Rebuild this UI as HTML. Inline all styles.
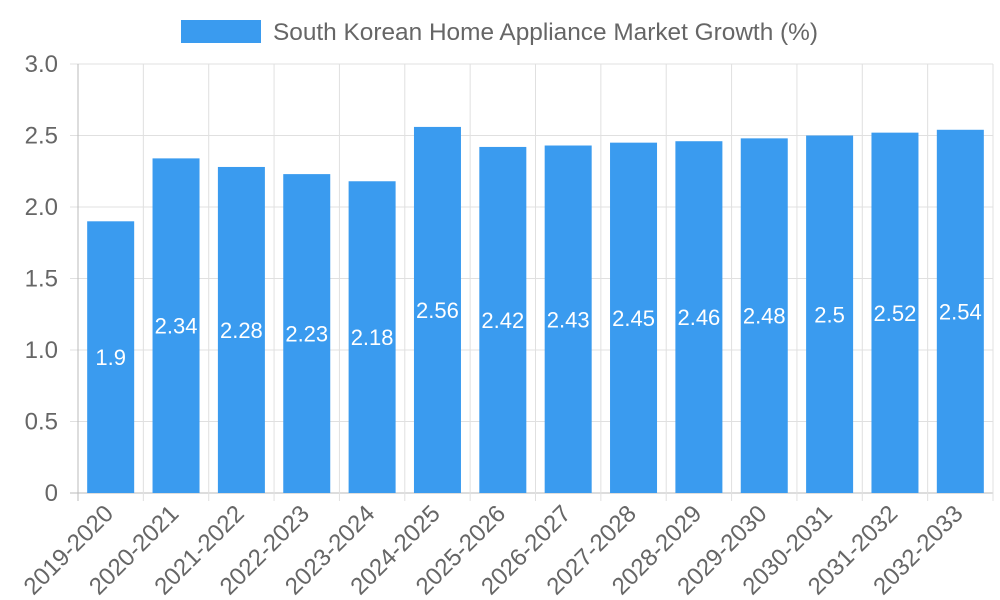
<!DOCTYPE html>
<html><head><meta charset="utf-8"><style>
body{margin:0;background:#fff;}
svg{display:block;font-family:"Liberation Sans",sans-serif;}
</style></head><body>
<svg id="chart" width="1000" height="600">
<g>
<rect x="181" y="20" width="80" height="23" fill="#3a9bef"></rect>
<text x="273" y="40" font-size="24.4" fill="#666">South Korean Home Appliance Market Growth (%)</text>
</g>
<g id="grid"></g><g id="bars"></g><g id="labels"></g>
</svg>
<script>
const categories=["2019-2020","2020-2021","2021-2022","2022-2023","2023-2024","2024-2025","2025-2026","2026-2027","2027-2028","2028-2029","2029-2030","2030-2031","2031-2032","2032-2033"];
const values=[1.9,2.34,2.28,2.23,2.18,2.56,2.42,2.43,2.45,2.46,2.48,2.5,2.52,2.54];
const yTicks=[0,0.5,1,1.5,2,2.5,3];
const yTickLabels=["0","0.5","1.0","1.5","2.0","2.5","3.0"];
const NS="http://www.w3.org/2000/svg";
const L=78,R=993,T=64,B=493,yMax=3;
const bw=(R-L)/categories.length;
const y=v=>B-(v/yMax)*(B-T);
const xc=i=>L+bw*(i+0.5);
function mk(p,tag,a){const e=document.createElementNS(NS,tag);for(const k in a)e.setAttribute(k,a[k]);p.appendChild(e);return e;}
const g=document.getElementById('grid'),bars=document.getElementById('bars'),lab=document.getElementById('labels');
yTicks.forEach((t,i)=>{
 const ln=mk(g,'line',{x1:L-8,x2:R,y1:y(t),y2:y(t),stroke:i==0?'#bbb':'#e0e0e0','stroke-width':1});
 
 
 const tx=mk(g,'text',{x:L-20,y:y(t)+8,'text-anchor':'end','font-size':24,fill:'#666'});
 tx.textContent=yTickLabels[i];
 
 
});
for(let i=0;i<=categories.length;i++){
 const x=L+bw*i;
 const ln=mk(g,'line',{x1:x,x2:x,y1:T,y2:B+8,stroke:i==0?'#bbb':'#e0e0e0','stroke-width':1});
 
 
}
categories.forEach((c,i)=>{
 const v=values[i],w=47;
 const r=mk(bars,'rect',{x:xc(i)-w/2,y:y(v),width:w,height:B-y(v),fill:'#3a9bef'});
 
 
 const vt=mk(lab,'text',{x:xc(i),y:(y(v)+B)/2+8,'text-anchor':'middle','font-size':22,fill:'#fff'});
 vt.textContent=String(v);
 
 
 const ax=xc(i)+4,ay=B+22;
 const xt=mk(lab,'text',{x:ax,y:ay,'text-anchor':'end','font-size':24,fill:'#666',transform:`rotate(-45 ${ax} ${ay})`});
 xt.textContent=c;
 
 
});
</script>
</body></html>
